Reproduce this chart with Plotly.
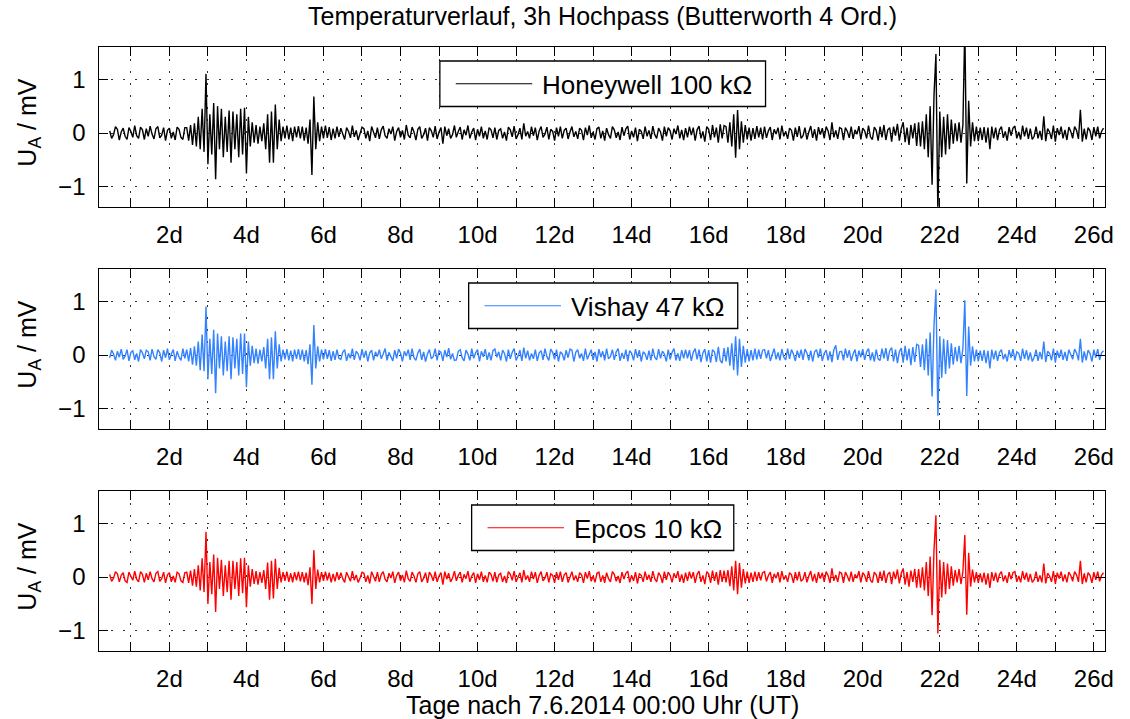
import plotly.graph_objects as go

# ---------------- data (mV), time axis in days ----------------
T_START = 0.45   # first sample (days)
T_STEP = 0.05    # sample spacing (days)

honeywell = [
    .04,-.1,-.03,.12,.07,-.13,.02,.09,-.06,-.12,.1,.03,-.08,.14,-.05,-.1,.11,.06,-.12,.08,
    -.06,.13,-.02,-.11,.08,.12,-.09,-.04,.1,-.14,.05,.09,-.1,.02,-.13,.11,.07,-.08,-.12,.1,
    .1,-.14,.15,-.22,.18,-.25,.3,-.3,.45,-.35,1.1,-.58,.35,-.4,.56,-.86,.5,-.3,.45,-.45,
    .3,-.35,.42,-.55,.4,-.3,.35,-.45,.45,-.4,.47,-.75,.3,-.25,.2,-.18,.15,-.2,.12,-.15,
    .18,-.3,.35,-.55,.4,-.55,.53,-.3,.25,-.15,.12,-.1,.14,-.12,.1,-.15,.12,-.08,.13,-.1,
    .12,-.14,.1,-.2,.25,-.78,.68,-.3,.2,-.15,.12,-.1,.14,-.09,.11,-.13,.08,-.1,.12,-.07,
    .09,-.04,-.12,.1,.03,-.09,.14,-.07,.05,-.13,-.02,.11,.08,-.1,.04,-.15,.12,.02,-.09,.1,
    -.11,.06,.13,-.05,-.1,.08,-.02,.12,-.14,.03,.1,-.08,.05,-.12,.15,-.04,-.09,.11,.02,-.13,
    .07,.12,-.1,-.03,.09,-.14,.1,.04,-.08,.13,-.11,.02,.1,-.2,.12,-.05,.08,-.1,-.03,.14,
    -.08,.03,.11,-.12,.06,-.04,.14,-.1,.02,.09,-.13,.07,-.06,.12,-.1,.04,-.12,.1,.06,-.09,
    .1,-.12,.05,.08,-.1,.02,-.14,.11,.06,-.07,.13,-.11,-.03,.09,-.12,.18,-.06,.03,-.1,.12,
    -.05,.1,-.13,.04,.12,-.08,-.02,.11,-.12,.07,.03,-.14,.1,-.06,.12,-.1,.05,.09,-.11,.02,
    .12,-.07,.03,-.11,.09,.05,-.13,.1,-.04,.14,-.09,.02,-.12,.08,.11,-.1,.04,-.14,.09,-.03,
    -.1,.12,.06,-.09,.02,-.13,.11,-.05,.08,.13,-.12,.04,-.08,.1,-.15,.07,.03,-.11,.12,-.06,
    .05,-.11,.13,-.03,-.1,.09,.02,-.14,.12,-.06,.1,.04,-.12,.08,-.02,.14,-.1,.06,-.13,.09,
    -.08,.12,-.04,.1,-.14,.06,.13,-.1,.03,-.16,.12,.07,-.13,.15,-.08,.1,-.18,.16,-.1,.14,
    .12,-.18,.2,-.25,.35,-.46,.43,-.3,.22,-.18,.15,-.12,.1,-.14,.09,-.11,.13,-.08,.1,-.12,
    .12,-.09,.04,.11,-.13,.07,-.02,.1,-.12,.14,-.06,.03,-.11,.09,.05,-.14,.1,-.07,.13,-.1,
    -.05,.1,-.12,.02,.13,-.09,.07,-.14,.11,-.03,.09,-.1,.12,.04,-.13,.2,-.08,.05,-.11,.1,
    .08,-.13,.1,.03,-.09,.12,-.11,.06,-.02,.13,-.12,.09,.04,-.1,.14,-.07,-.12,.11,.05,-.14,
    .12,-.08,.15,-.13,.06,.1,-.16,.12,-.05,.17,-.14,.08,.2,-.17,.1,-.22,.15,-.1,.18,-.24,
    .2,-.25,.22,-.3,.35,-.45,.5,-.96,.7,1.47,-1.5,.4,-.45,.3,-.4,.35,-.3,.25,-.2,.18,
    -.15,.2,-.18,.15,2.0,-.94,.6,-.25,.2,-.15,.12,-.15,.1,-.13,.11,-.18,.1,-.3,.12,-.1,
    .1,-.13,.06,.12,-.09,.03,-.14,.11,-.05,.09,.13,-.1,.02,-.12,.14,-.06,.1,-.11,.08,-.12,
    -.06,.12,-.1,.04,-.13,.31,-.15,.08,.02,-.11,.14,-.16,.09,-.04,.12,-.1,.06,-.13,.11,.03,
    -.1,.12,.05,-.11,.43,-.16,.08,-.12,.1,.04,-.13,.11,-.06,.12,-.1,.03,.09,
]

vishay = [
    -.05,.09,.02,-.1,.07,-.04,.11,-.08,-.02,.1,-.11,.05,.08,-.09,.03,-.12,.1,.04,-.07,.09,
    .06,-.1,.11,-.03,-.08,.1,.04,-.12,.09,-.05,.12,-.09,.02,.1,-.11,.07,-.04,-.1,.12,-.06,
    .1,-.12,.13,-.18,.16,-.2,.25,-.28,.38,-.3,.9,-.45,.3,-.35,.47,-.71,.4,-.25,.35,-.38,
    .25,-.3,.35,-.45,.33,-.25,.3,-.38,.4,-.35,.4,-.6,.25,-.2,.17,-.15,.12,-.16,.1,-.12,
    .15,-.25,.3,-.45,.33,-.45,.44,-.25,.2,-.12,.1,-.08,.11,-.1,.08,-.12,.1,-.07,.11,-.09,
    .1,-.12,.09,-.17,.2,-.55,.56,-.25,.16,-.12,.1,-.08,.11,-.07,.09,-.11,.07,-.09,.1,-.06,
    -.08,.05,.1,-.11,.03,-.06,.12,-.09,.07,.02,-.1,.11,-.05,.08,-.12,.04,.09,-.1,.06,-.03,
    .1,-.07,.02,.12,-.1,.05,-.03,-.11,.09,-.06,.11,.04,-.12,.07,-.02,.1,-.09,.12,-.05,-.1,
    .04,.11,-.09,.06,-.12,.02,.1,-.07,-.03,.12,-.1,.08,.05,-.11,.09,-.04,.13,-.08,.03,-.1,
    -.09,.07,.1,-.05,-.11,.09,.02,-.1,.12,-.06,.04,.1,-.12,.07,-.03,.11,-.09,.05,-.1,.08,
    .11,-.04,.06,-.1,.09,.03,-.12,.1,-.07,.05,.12,-.1,-.02,.09,-.11,.14,-.06,.08,-.1,.03,
    -.07,.1,-.11,.04,.08,-.09,.12,-.03,-.1,.11,.05,-.08,.1,-.12,.06,.02,-.1,.09,-.05,.11,
    .09,-.12,.05,.1,-.06,.03,-.11,.12,-.08,.02,.1,-.09,.06,-.12,.11,-.04,.07,-.1,.12,-.07,
    -.03,.1,-.09,.06,.12,-.11,.04,-.07,.1,-.12,.08,.03,-.1,.11,-.05,.09,-.12,.06,.02,-.09,
    .08,-.1,.12,-.04,-.09,.11,-.06,.07,.02,-.12,.1,-.08,.05,.12,-.1,.03,-.11,.09,-.06,.1,
    -.06,.09,-.11,.05,.12,-.08,.1,-.13,.04,.11,-.12,.09,-.14,.1,.06,-.13,.15,-.1,-.15,.13,
    -.12,.15,-.2,.22,-.28,.35,-.38,.3,-.22,.17,-.14,.11,-.12,.09,-.1,.12,-.08,.1,-.07,.09,
    .1,-.06,.09,-.11,.03,.12,-.08,.05,-.1,.11,-.04,-.09,.12,-.07,.1,.02,-.11,.08,-.05,.1,
    -.09,.11,.04,-.1,.08,-.12,.06,.1,-.05,.12,-.11,.03,.09,-.1,.07,-.13,.1,.18,-.09,.06,
    .07,-.1,.12,-.05,.09,-.11,.02,.1,-.12,.08,-.04,.11,-.09,.06,.12,-.1,.05,-.12,.1,-.07,
    -.1,.12,-.06,.13,-.11,.08,.14,-.12,.1,-.15,.06,.13,-.14,.17,-.1,.12,-.19,.15,-.13,.2,
    .18,-.22,.2,-.28,.3,-.38,.42,-.77,.55,1.22,-1.13,.35,-.42,.3,-.35,.28,-.25,.22,-.18,.15,
    -.12,.17,-.15,.12,1.02,-.76,.53,-.2,.16,-.12,.1,-.12,.08,-.11,.09,-.15,.08,-.25,.1,-.08,
    .08,-.11,.05,.1,-.08,.02,-.12,.09,-.05,.11,-.1,.06,.03,-.11,.12,-.07,.09,-.1,.05,-.12,
    -.04,.1,-.11,.06,-.08,.25,-.13,.07,.03,-.1,.12,-.14,.08,-.05,.1,-.09,.06,-.11,.1,.02,
    -.08,.11,.04,-.1,.3,-.14,.07,-.1,.09,.03,-.12,.1,-.05,.11,-.09,.04,.08,
]

epcos = [
    .05,-.08,-.02,.1,.06,-.09,.03,.08,-.07,-.1,.09,.02,-.06,.11,-.04,-.09,.1,.05,-.1,.07,
    -.05,.1,-.03,-.09,.07,.1,-.08,-.03,.09,-.11,.04,.08,-.09,.02,-.1,.09,.06,-.07,-.1,.08,
    .09,-.11,.12,-.16,.15,-.18,.22,-.25,.35,-.28,.84,-.5,.28,-.32,.42,-.65,.36,-.22,.32,-.35,
    .22,-.28,.3,-.42,.3,-.22,.28,-.35,.35,-.3,.36,-.56,.22,-.18,.15,-.13,.11,-.14,.09,-.11,
    .13,-.22,.27,-.42,.3,-.4,.34,-.22,.17,-.1,.09,-.07,.1,-.09,.07,-.1,.09,-.06,.1,-.08,
    .09,-.1,.08,-.15,.18,-.5,.5,-.22,.14,-.1,.09,-.07,.1,-.06,.08,-.1,.06,-.08,.09,-.05,
    .08,-.03,-.1,.09,.02,-.08,.11,-.06,.04,-.1,-.02,.09,.07,-.09,.03,-.12,.1,.02,-.08,.09,
    -.09,.05,.1,-.04,-.09,.07,-.02,.1,-.11,.03,.09,-.07,.04,-.1,.12,-.03,-.08,.09,.02,-.1,
    .06,.1,-.09,-.02,.08,-.11,.09,.03,-.07,.1,-.09,.02,.08,-.14,.1,-.04,.07,-.09,-.02,.11,
    -.07,.03,.09,-.1,.05,-.03,.11,-.09,.02,.08,-.11,.06,-.05,.1,-.09,.03,-.1,.09,.05,-.08,
    .09,-.1,.04,.07,-.09,.02,-.11,.1,.05,-.06,.11,-.09,-.02,.08,-.1,.13,-.05,.03,-.09,.1,
    -.04,.09,-.11,.03,.1,-.07,-.02,.09,-.1,.06,.03,-.11,.09,-.05,.1,-.09,.04,.08,-.1,.02,
    .1,-.06,.03,-.09,.08,.04,-.11,.09,-.03,.11,-.08,.02,-.1,.07,.09,-.09,.03,-.11,.08,-.03,
    -.09,.1,.05,-.08,.02,-.11,.09,-.04,.07,.11,-.1,.03,-.07,.09,-.12,.06,.03,-.09,.1,-.05,
    .04,-.09,.11,-.03,-.09,.08,.02,-.11,.1,-.05,.09,.03,-.1,.07,-.02,.11,-.09,.05,-.11,.08,
    -.07,.1,-.03,.09,-.11,.05,.11,-.09,.03,-.13,.1,.06,-.11,.12,-.07,.09,-.14,.13,-.09,.12,
    -.1,.13,-.17,.2,-.25,.3,-.32,.26,-.2,.15,-.12,.1,-.11,.08,-.09,.1,-.07,.09,-.06,.08,
    .1,-.08,.03,.09,-.11,.06,-.02,.09,-.1,.11,-.05,.03,-.09,.08,.04,-.11,.09,-.06,.1,-.08,
    -.04,.09,-.1,.02,.11,-.08,.06,-.11,.09,-.03,.08,-.09,.1,.03,-.11,.16,-.07,.04,-.09,.09,
    .07,-.11,.09,.02,-.08,.1,-.09,.05,-.02,.11,-.1,.08,.03,-.09,.11,-.06,-.1,.09,.04,-.11,
    .1,-.07,.12,-.11,.05,.09,-.13,.1,-.04,.14,-.12,.07,.16,-.14,.09,-.18,.12,-.09,.15,-.2,
    .15,-.2,.18,-.25,.28,-.35,.38,-.71,.5,1.15,-1.05,.32,-.38,.28,-.32,.25,-.22,.2,-.16,.13,
    -.1,.15,-.13,.1,.78,-.7,.45,-.18,.14,-.1,.09,-.11,.07,-.1,.08,-.14,.07,-.2,.09,-.07,
    .08,-.1,.05,.1,-.08,.03,-.11,.09,-.04,.08,.1,-.09,.02,-.1,.11,-.05,.08,-.09,.06,-.1,
    -.05,.1,-.09,.03,-.1,.25,-.12,.07,.02,-.09,.11,-.13,.08,-.03,.1,-.08,.05,-.1,.09,.03,
    -.08,.1,.04,-.09,.3,-.13,.07,-.1,.08,.03,-.11,.09,-.05,.1,-.08,.03,.08,
]

series_names = ["Honeywell 100 kΩ", "Vishay 47 kΩ", "Epcos 10 kΩ"]
series_colors = ["#000000", "#3382ff", "#ff0000"]
day_ticks = list(range(2, 27, 2))
day_labels = [f"{d}d" for d in day_ticks]
y_ticks = [-1, 0, 1]
y_labels = ["\u22121", "0", "1"]

TITLE = "Temperaturverlauf, 3h Hochpass (Butterworth 4 Ord.)"
XLABEL = "Tage nach 7.6.2014 00:00 Uhr (UT)"
YLABEL = "U<sub>A</sub> / mV"

# ---------------- layout geometry ----------------
W, H = 1130, 719
FONT = "Liberation Sans, Arial, Helvetica, sans-serif"
X_DOM = [100 / W, 1113.3 / W]
panel_px = [(47, 206.7), (269, 428.7), (491, 650.7)]  # top, bottom in px
legend_px = [(443, 771), (472, 743), (475, 739)]     # left, right of legend boxes


def px(x):
    return x / W


def py(y):
    return 1 - y / H


fig = go.Figure()
all_series = [honeywell, vishay, epcos]
for i, vals in enumerate(all_series):
    t = [round(T_START + T_STEP * k, 4) for k in range(len(vals))]
    fig.add_trace(go.Scatter(
        x=t, y=vals, mode="lines",
        line=dict(color=series_colors[i], width=1.4),
        xaxis="x" if i == 0 else f"x{i+1}",
        yaxis="y" if i == 0 else f"y{i+1}",
        showlegend=False, hoverinfo="skip",
    ))

GRIDC = "#333333"
GDASH = "2px,10px"
grid_kw = dict(showgrid=True, gridcolor=GRIDC, gridwidth=1, griddash=GDASH)
axis_kw = dict(showline=True, linecolor="black", linewidth=1, mirror="ticks",
               ticks="inside", ticklen=9, tickwidth=1, tickcolor="black",
               zeroline=False, tickfont=dict(family=FONT, size=24, color="black"))

layout = dict(
    width=W, height=H, autosize=False,
    margin=dict(l=0, r=0, t=0, b=0),
    paper_bgcolor="white", plot_bgcolor="white",
    showlegend=False,
    font=dict(family=FONT, color="black"),
)

shapes = []
annotations = []
for i, (top, bot) in enumerate(panel_px):
    xa = "xaxis" if i == 0 else f"xaxis{i+1}"
    ya = "yaxis" if i == 0 else f"yaxis{i+1}"
    ax_id = "x" if i == 0 else f"x{i+1}"
    ay_id = "y" if i == 0 else f"y{i+1}"
    layout[xa] = dict(domain=X_DOM, anchor=ay_id, range=[0.18, 26.3],
                      tickmode="array", tickvals=day_ticks, ticktext=day_labels,
                      ticklabelstandoff=6,
                      minor=dict(dtick=1, tick0=0, ticks="inside", ticklen=9,
                                 tickwidth=1, tickcolor="black", showgrid=True,
                                 gridcolor=GRIDC, gridwidth=1, griddash=GDASH),
                      **grid_kw, **axis_kw)
    layout[ya] = dict(domain=[py(bot), py(top)], anchor=ax_id, range=[-1.37, 1.6],
                      tickmode="array", tickvals=y_ticks, ticktext=y_labels,
                      ticklabelstandoff=8, **grid_kw, **axis_kw)
    # y-axis label
    annotations.append(dict(
        xref="paper", yref="paper", x=px(29), y=py((top + bot) / 2 - 4),
        text=YLABEL, textangle=-90, showarrow=False,
        xanchor="center", yanchor="middle",
        font=dict(family=FONT, size=25, color="black")))
    # legend box
    lx0, lx1 = legend_px[i]
    ly0, ly1 = top + 14, top + 59.5
    lyc = (ly0 + ly1) / 2
    shapes.append(dict(type="rect", xref="paper", yref="paper",
                       x0=px(lx0), x1=px(lx1), y0=py(ly1), y1=py(ly0),
                       line=dict(color="black", width=1.3), fillcolor="white", layer="above"))
    shapes.append(dict(type="line", xref="paper", yref="paper",
                       x0=px(lx0 + 16), x1=px(lx0 + 93), y0=py(lyc), y1=py(lyc),
                       line=dict(color=series_colors[i], width=1), layer="above"))
    annotations.append(dict(
        xref="paper", yref="paper", x=px(lx0 + 101), y=py(lyc + 1),
        text=series_names[i], showarrow=False, xanchor="left", yanchor="middle",
        font=dict(family=FONT, size=26, color="black")))

annotations.append(dict(xref="paper", yref="paper", x=px(607), y=py(16),
                        text=TITLE, showarrow=False, xanchor="center", yanchor="middle",
                        font=dict(family=FONT, size=25, color="black")))
annotations.append(dict(xref="paper", yref="paper", x=px(607), y=py(705),
                        text=XLABEL, showarrow=False, xanchor="center", yanchor="middle",
                        font=dict(family=FONT, size=25, color="black")))

layout["shapes"] = shapes
layout["annotations"] = annotations
fig.update_layout(**layout)
fig.write_html("out.html")
